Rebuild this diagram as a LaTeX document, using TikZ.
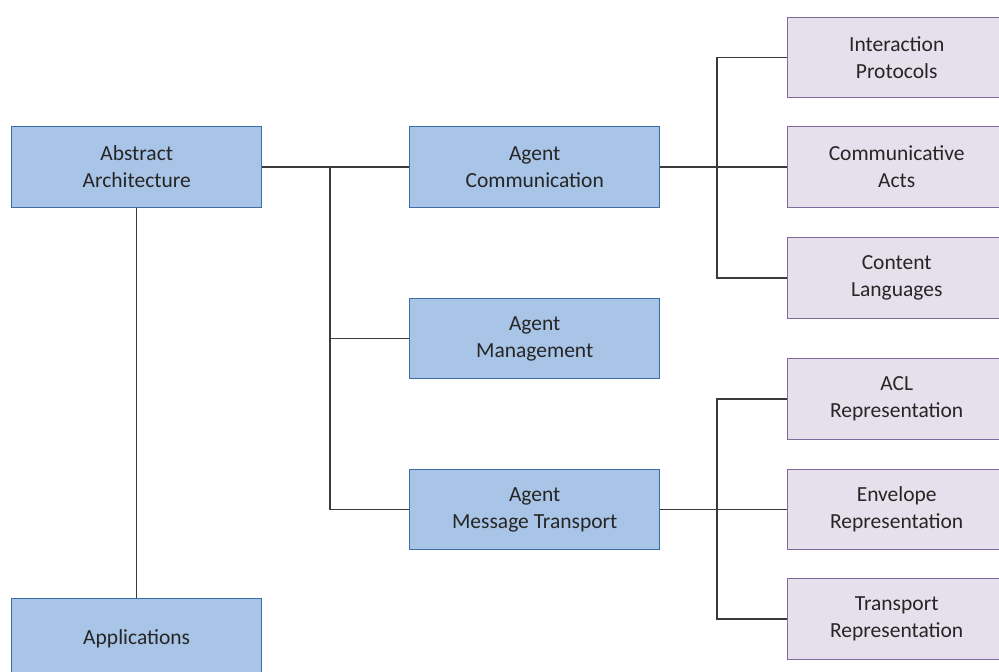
\documentclass[tikz,border=0pt]{standalone}
\usepackage{fontspec}
\setmainfont{Carlito}
\definecolor{bluefill}{HTML}{A8C4E6}
\definecolor{blueline}{HTML}{3B6FA6}
\definecolor{purpfill}{HTML}{E5E0EC}
\definecolor{purpline}{HTML}{7F6A9F}
\definecolor{txt}{HTML}{262626}
\definecolor{conn}{HTML}{3A3A3A}
\tikzset{
  box/.style={rectangle, anchor=north west, minimum height=80.5pt,
    inner sep=0pt, align=center, text=txt, font=\fontsize{21.5}{27}\selectfont, line width=1.4pt},
  bluebox/.style={box, minimum width=250pt, fill=bluefill, draw=blueline},
  purpbox/.style={box, minimum width=218pt, fill=purpfill, draw=purpline},
  link/.style={draw=conn, line width=1.15pt}
}
\begin{document}
\begin{tikzpicture}[x=1pt,y=-1pt]
\path[use as bounding box, clip] (0,0) rectangle (999,672);
\fill[white] (0,0) rectangle (999,672);
\coordinate (tx) at (330,0);
\coordinate (bx) at (717,0);
\node[bluebox] (AA) at (11,126) {Abstract\\Architecture};
\node[bluebox] (APP) at (11,598) {Applications};
\node[bluebox] (AC) at (409,126) {Agent\\Communication};
\node[bluebox] (AM) at (409,297.5) {Agent\\Management};
\node[bluebox] (AMT) at (409,468.5) {Agent\\Message Transport};
\node[purpbox] (IP) at (787,16.5) {Interaction\\Protocols};
\node[purpbox] (CA) at (787,126) {Communicative\\Acts};
\node[purpbox] (CL) at (787,237) {Content\\Languages};
\node[purpbox] (ACL) at (787,358) {ACL\\Representation};
\node[purpbox] (ER) at (787,468.5) {Envelope\\Representation};
\node[purpbox] (TR) at (787,578) {Transport\\Representation};
\draw[link] (AA.south) -- (APP.north);
\draw[link] (AA.east) -- (AC.west);
\draw[link] (tx |- AC.west) |- (AMT.west);
\draw[link] (tx |- AM.west) -- (AM.west);
\draw[link] (AC.east) -- (CA.west);
\draw[link] (IP.west) -| (bx |- CL.west) -- (CL.west);
\draw[link] (AMT.east) -- (ER.west);
\draw[link] (ACL.west) -| (bx |- TR.west) -- (TR.west);
\end{tikzpicture}
\end{document}
